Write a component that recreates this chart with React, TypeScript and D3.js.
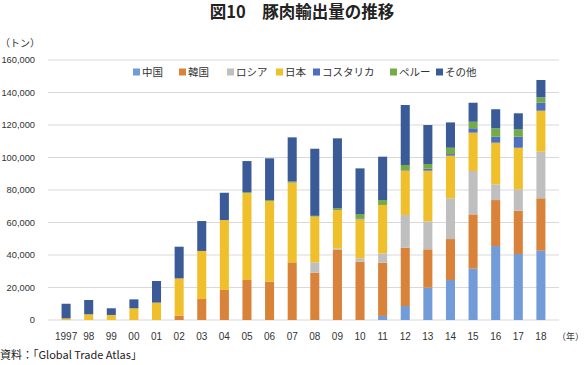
import React from 'react';
import { scaleBand, scaleLinear, stack } from 'd3';

const years = ['1997', '98', '99', '00', '01', '02', '03', '04', '05', '06', '07', '08', '09', '10', '11', '12', '13', '14', '15', '16', '17', '18'];

const seriesNames = ['中国', '韓国', 'ロシア', '日本', 'コスタリカ', 'ペルー', 'その他'];
const seriesColors = ['#739bd8', '#d8823a', '#bfbfbf', '#f0bf2c', '#4d6fbe', '#74ab47', '#3a5b98'];

// トン
const china = [0, 0, 0, 0, 0, 0, 0, 0, 0, 0, 0, 0, 0, 0, 2500, 8600, 19900, 24600, 31600, 45500, 40600, 42600];
const korea = [0, 0, 0, 0, 0, 2600, 12900, 18500, 24600, 23600, 35500, 29100, 43100, 35900, 32800, 35900, 23600, 25200, 33400, 28300, 26700, 32300];
const russia = [0, 0, 0, 0, 0, 0, 0, 0, 0, 0, 0, 6400, 1000, 2100, 5700, 20100, 17200, 25100, 26700, 9700, 13100, 28700];
const japan = [1000, 3500, 3100, 7200, 10700, 23000, 29600, 43000, 53400, 49600, 49000, 28100, 23600, 24000, 29800, 27300, 31200, 26200, 23600, 25600, 25600, 25200];
const costaRica = [0, 0, 0, 0, 0, 0, 0, 0, 0, 0, 0, 0, 0, 500, 0, 300, 1200, 1000, 2700, 3700, 6800, 4900];
const peru = [0, 0, 0, 0, 0, 0, 0, 0, 700, 500, 700, 500, 1000, 2700, 3000, 3200, 2900, 3900, 4000, 5200, 4500, 3300];
const others = [9000, 8800, 4100, 5500, 13300, 19500, 18400, 16800, 19100, 25800, 27200, 41300, 43100, 28100, 26700, 36900, 24000, 15600, 11700, 11700, 9900, 10700];

const yTicks = [0, 20000, 40000, 60000, 80000, 100000, 120000, 140000, 160000];

const W = 585;
const H = 365;
const margin = { top: 60, right: 26, bottom: 45, left: 48 };
const FONT = '"Liberation Sans", "Noto Sans CJK JP", sans-serif';
const JP = '"Noto Sans CJK JP", sans-serif';

export default function App() {
  const rows = years.map((y, i) => ({
    year: y,
    '中国': china[i],
    '韓国': korea[i],
    'ロシア': russia[i],
    '日本': japan[i],
    'コスタリカ': costaRica[i],
    'ペルー': peru[i],
    'その他': others[i],
  }));
  const layers = stack<any>().keys(seriesNames)(rows);

  const x = scaleBand<string>().domain(years).range([margin.left, W - margin.right]).padding(0.6);
  const y = scaleLinear().domain([0, 160000]).range([H - margin.bottom, margin.top]);

  // legend x positions (square left edges)
  const legendX = [133, 179, 227, 276, 313, 390, 436];

  return (
    <svg width={W} height={H} style={{ position: 'absolute', left: 0, top: 0, background: '#fff' }} fontFamily={FONT}>
      <text x={302} y={18} textAnchor="middle" fontFamily={JP} fontWeight="bold" fontSize={16.5} fill="#222">
        図10　豚肉輸出量の推移
      </text>
      <text x={0} y={47} fontFamily={JP} fontSize={10} fill="#333">（トン）</text>

      {yTicks.map(t => (
        <g key={t}>
          <line x1={margin.left} x2={W - margin.right} y1={y(t)} y2={y(t)} stroke="#d9d9d9" strokeWidth={1} />
          <text x={35} y={y(t)} dy="0.35em" textAnchor="end" fontSize={9.3} fill="#333">
            {t.toLocaleString('en-US')}
          </text>
        </g>
      ))}

      {layers.map((layer, si) => (
        <g key={layer.key} fill={seriesColors[si]}>
          {layer.map((d: any) => (
            <rect
              key={d.data.year}
              x={x(d.data.year)}
              y={y(d[1])}
              width={x.bandwidth()}
              height={Math.max(0, y(d[0]) - y(d[1]))}
            />
          ))}
        </g>
      ))}

      {years.map(yr => (
        <text key={yr} x={x(yr)! + x.bandwidth() / 2} y={340} textAnchor="middle" fontSize={10} fill="#333">
          {yr}
        </text>
      ))}
      <text x={584} y={340} textAnchor="end" fontFamily={JP} fontSize={9} fill="#333">（年）</text>

      {seriesNames.map((name, i) => (
        <g key={name} transform={`translate(${legendX[i]}, 72)`}>
          <rect x={0} y={-3.5} width={7} height={7} fill={seriesColors[i]} />
          <text x={9} y={0} dy="0.35em" fontFamily={JP} fontSize={10.5} fill="#333">{name}</text>
        </g>
      ))}

      <text x={0} y={359} fontFamily={JP} fontSize={11} fill="#222">資料：「Global Trade Atlas」</text>
    </svg>
  );
}
